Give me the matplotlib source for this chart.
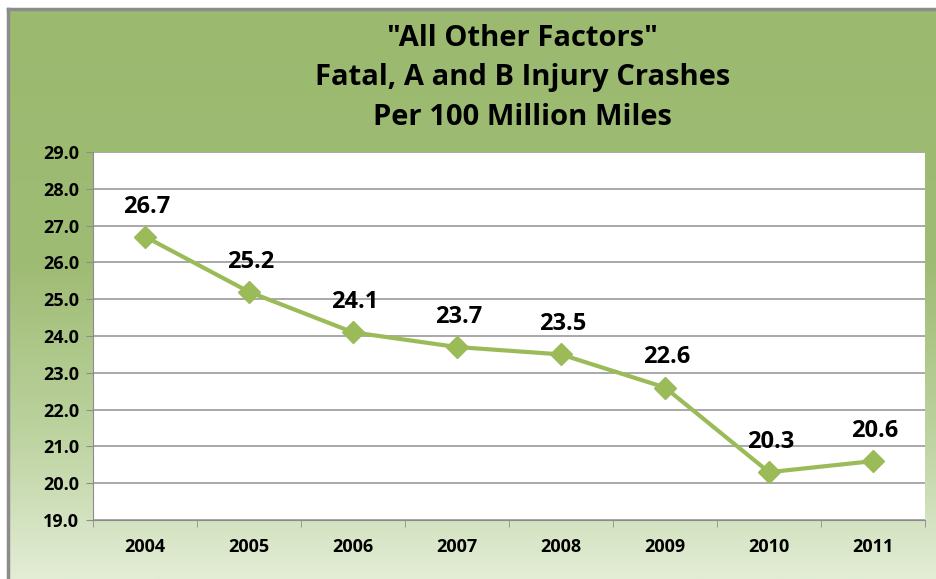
import matplotlib.pyplot as plt
import numpy as np
from matplotlib.colors import LinearSegmentedColormap

# data
years = ['2004', '2005', '2006', '2007', '2008', '2009', '2010', '2011']
rates = [26.7, 25.2, 24.1, 23.7, 23.5, 22.6, 20.3, 20.6]
yticks = np.arange(19, 30, 1)

plt.rcParams['font.family'] = ['Open Sans', 'DejaVu Sans']
plt.rcParams['font.weight'] = 'bold'

W, H = 936, 579
fig = plt.figure(figsize=(W / 100, H / 100), dpi=100)

# green gradient background
bg = fig.add_axes([9 / W, 0, 1 - 9 / W, 1 - 10 / H])
cmap = LinearSegmentedColormap.from_list(
    'g', [(0, '#9bb96f'), (0.45, '#9fbc74'), (0.75, '#bdd3a0'), (1, '#e3edd6')])
grad = np.linspace(0, 1, 256).reshape(-1, 1)
bg.imshow(grad, aspect='auto', cmap=cmap, extent=[0, 1, 0, 1], origin='upper')
bg.set_axis_off()
fig.add_artist(plt.Line2D([8 / W, 8 / W], [0, 1 - 9 / H], color='#8c8c8c', lw=2.5))
fig.add_artist(plt.Line2D([8 / W, 1], [1 - 9 / H, 1 - 9 / H], color='#8c8c8c', lw=2.5))

title_lines = ['"All Other Factors"', 'Fatal, A and B Injury Crashes', 'Per 100 Million Miles']
for line, ypx in zip(title_lines, [38, 78, 117]):
    fig.text(0.558, 1 - ypx / H, line, ha='center', va='center', fontsize=21, fontweight='bold')

ax = fig.add_axes([93 / W, 1 - 520 / H, (925 - 93) / W, (520 - 152) / H])
ax.set_facecolor('white')
x = np.arange(len(years))
ax.plot(x, rates, color='#9bbb59', lw=3, marker='D', markersize=11.5, zorder=3)
for xi, v in zip(x, rates):
    ax.annotate(f'{v:.1f}', (xi, v), xytext=(1, 13), textcoords='offset points',
                ha='center', va='bottom', fontsize=17, fontweight='bold')

ax.set_xlim(-0.5, len(years) - 0.5)
ax.set_ylim(19, 29)
ax.set_yticks(yticks)
ax.set_yticklabels([f'{t:.1f}' for t in yticks], fontsize=13, fontweight='bold')
ax.grid(axis='y', color='#9a9a9a', lw=1.2)
ax.set_axisbelow(True)
ax.set_xticks(x)
ax.set_xticklabels(years, fontsize=13, fontweight='bold')
ax.set_xticks(np.arange(-0.5, len(years)), minor=True)
ax.tick_params(axis='x', which='major', length=0, pad=13)
ax.tick_params(axis='x', which='minor', length=5, color='#8c8c8c')
ax.tick_params(axis='y', length=5, color='#8c8c8c', pad=5)
for s in ['top', 'right']:
    ax.spines[s].set_visible(False)
for s in ['left', 'bottom']:
    ax.spines[s].set_color('#8c8c8c')

fig.savefig('out.png', dpi=100)
